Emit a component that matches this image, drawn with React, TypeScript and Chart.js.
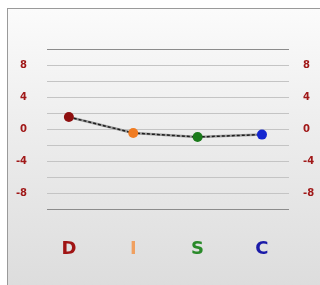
import React, { useEffect, useRef } from "react";
import { Chart, registerables } from "chart.js";

Chart.register(...registerables);

const categories = ["D", "I", "S", "C"];
const values = [1.5, -0.5, -1.0, -0.7];
const pointColors = ["#8e0f0f", "#f07c22", "#1b7a1b", "#1426d0"];
const labelColors = ["#a01414", "#f0a060", "#2a8a2a", "#1a1aa8"];
const yTickLabels = [8, 4, 0, -4, -8];

export default function App() {
  const ref = useRef<HTMLCanvasElement | null>(null);

  useEffect(() => {
    if (!ref.current) return;
    const pts = values.map((v, i) => ({ x: i, y: v }));
    const yTicks = {
      stepSize: 2,
      color: "#a01818",
      font: { family: "DejaVu Sans", size: 10, weight: "bold" as const },
      callback: (v: any) => (yTickLabels.includes(Number(v)) ? String(v) : ""),
    };
    const chart = new Chart(ref.current, {
      type: "line",
      data: {
        datasets: [
          {
            data: pts,
            order: 2,
            borderColor: "#9a9a9a",
            borderWidth: 2.5,
            pointRadius: 0,
            pointHoverRadius: 0,
          },
          {
            data: pts,
            order: 1,
            borderColor: "#1e1e1e",
            borderWidth: 1.5,
            borderDash: [3, 2],
            pointRadius: 5,
            pointBackgroundColor: pointColors,
            pointBorderColor: pointColors,
            pointBorderWidth: 0,
          },
        ],
      },
      options: {
        animation: false,
        responsive: false,
        layout: { padding: { left: 0, right: 0, top: 49, bottom: 0 } },
        plugins: { legend: { display: false }, tooltip: { enabled: false } },
        scales: {
          x: {
            type: "linear",
            min: -0.34,
            max: 3.42,
            grid: { display: false, drawTicks: false },
            border: { display: false },
            afterBuildTicks: (s: any) => {
              s.ticks = categories.map((_, i) => ({ value: i }));
            },
            afterFit: (s: any) => {
              s.height = 76;
            },
            ticks: {
              padding: 30,
              autoSkip: false,
              maxRotation: 0,
              font: { family: "DejaVu Sans", size: 18, weight: "bold" },
              color: (ctx: any) => labelColors[ctx.index] || "#000",
              callback: (v: any) => categories[Number(v)] ?? "",
            },
          },
          y: {
            position: "left",
            min: -10,
            max: 10,
            afterFit: (s: any) => {
              s.width = 47;
            },
            grid: {
              drawTicks: false,
              lineWidth: 1,
              color: (ctx: any) =>
                ctx.tick && Math.abs(ctx.tick.value) === 10 ? "#8c8c8c" : "#c4c4c4",
            },
            border: { display: false },
            ticks: { ...yTicks, padding: 20 },
          },
          y2: {
            position: "right",
            min: -10,
            max: 10,
            afterFit: (s: any) => {
              s.width = 31;
            },
            grid: { display: false, drawTicks: false },
            border: { display: false },
            ticks: { ...yTicks, padding: 14 },
          },
        },
      },
    });
    return () => chart.destroy();
  }, []);

  return (
    <div style={{ position: "fixed", left: 0, top: 0, width: 320, height: 285, overflow: "hidden", background: "#fff" }}>
      <div
        style={{
          position: "absolute",
          left: 7,
          top: 8,
          width: 320,
          height: 285,
          borderTop: "1px solid #9a9a9a",
          borderLeft: "1px solid #9a9a9a",
          background: "linear-gradient(#fbfbfb 0%, #ececec 45%, #dcdcdc 100%)",
        }}
      />
      <canvas
        ref={ref}
        width={320}
        height={285}
        style={{ position: "absolute", left: 0, top: 0, width: 320, height: 285 }}
      />
    </div>
  );
}
